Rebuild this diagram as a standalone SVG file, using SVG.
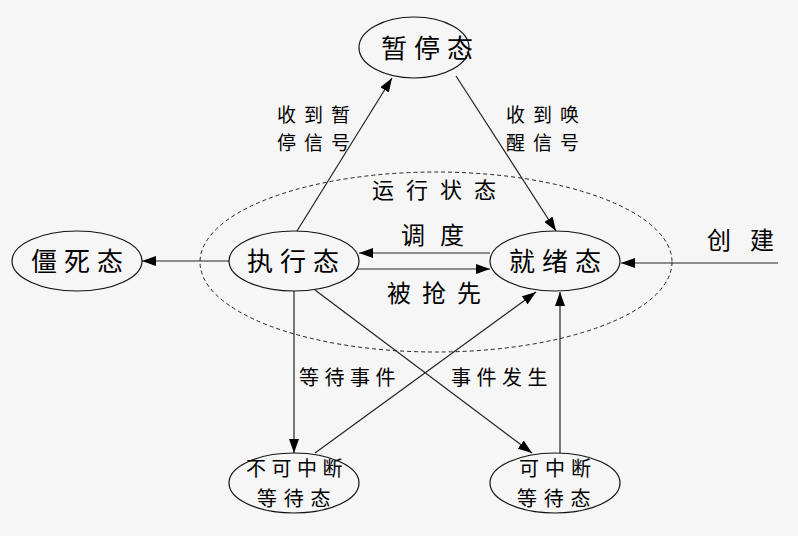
<svg xmlns="http://www.w3.org/2000/svg" width="798" height="536" viewBox="0 0 798 536">
<defs>
<style>
.n{fill:none;stroke:#111;stroke-width:1.2}
.c line{stroke:#222;stroke-width:1.2}
text{font-family:"Noto Sans CJK SC","Noto Sans CJK TC",sans-serif;fill:#000}
.big{font-size:26px;letter-spacing:7px}
.sm{font-size:19px;letter-spacing:8px}
.md{font-size:20px}
.lb{font-size:24px}
</style>
<marker id="ah" markerUnits="userSpaceOnUse" markerWidth="14" markerHeight="10" refX="14" refY="5" orient="auto">
<path d="M0,0 L14,5 L0,10 z" fill="#000"/>
</marker>
</defs>
<rect x="0" y="0" width="798" height="536" fill="#f6f6f6"/>
<g id="running">
<ellipse cx="436" cy="262" rx="236" ry="90" fill="none" stroke="#222" stroke-width="1" stroke-dasharray="4 3"/>
<text x="372" y="198" style="font-size:22px;letter-spacing:12px">运行状态</text>
</g>
<g class="c" id="connectors">
<line x1="229" y1="261" x2="142" y2="261" marker-end="url(#ah)"/>
<line x1="490" y1="253" x2="359" y2="253" marker-end="url(#ah)"/>
<line x1="357" y1="269" x2="490" y2="269" marker-end="url(#ah)"/>
<line x1="778" y1="263" x2="621" y2="263" marker-end="url(#ah)"/>
<line x1="297" y1="231" x2="392" y2="78" marker-end="url(#ah)"/>
<line x1="456" y1="76" x2="556" y2="231" marker-end="url(#ah)"/>
<line x1="315" y1="290" x2="532" y2="453" marker-end="url(#ah)"/>
<line x1="294" y1="291" x2="294" y2="453" marker-end="url(#ah)"/>
<line x1="315" y1="453" x2="536" y2="292" marker-end="url(#ah)"/>
<line x1="560" y1="453" x2="560" y2="292" marker-end="url(#ah)"/>
</g>
<g id="labels">
<text class="sm" x="277" y="122">收到暂</text>
<text class="sm" x="277" y="150">停信号</text>
<text class="sm" x="506" y="122">收到唤</text>
<text class="sm" x="506" y="150">醒信号</text>
<text class="lb" x="401" y="243.5" style="letter-spacing:15px">调度</text>
<text class="lb" x="387" y="301.5" style="letter-spacing:11px">被抢先</text>
<text class="lb" x="707" y="249" style="letter-spacing:19px">创建</text>
<text class="md" x="299" y="385" style="letter-spacing:5.5px">等待事件</text>
<text class="md" x="451" y="385" style="letter-spacing:5.5px">事件发生</text>
</g>
<g id="paused">
<ellipse class="n" cx="414" cy="47.5" rx="55" ry="30.5"/>
<text class="big" x="381" y="57.5">暂停态</text>
</g>
<g id="zombie">
<ellipse class="n" cx="77" cy="261" rx="65" ry="30"/>
<text class="big" x="31" y="270.5">僵死态</text>
</g>
<g id="executing">
<ellipse class="n" cx="294" cy="261" rx="65" ry="30"/>
<text class="big" x="247" y="270.5">执行态</text>
</g>
<g id="ready">
<ellipse class="n" cx="555" cy="261" rx="65" ry="30"/>
<text class="big" x="509" y="270.5">就绪态</text>
</g>
<g id="uninterruptible">
<ellipse class="n" cx="294" cy="483" rx="65" ry="30"/>
<text class="md" x="246" y="475.6" style="letter-spacing:5.5px">不可中断</text>
<text class="md" x="257" y="506" style="letter-spacing:6.8px">等待态</text>
</g>
<g id="interruptible">
<ellipse class="n" cx="555" cy="483" rx="65" ry="30"/>
<text class="md" x="519" y="475.6" style="letter-spacing:6px">可中断</text>
<text class="md" x="517" y="506" style="letter-spacing:6.8px">等待态</text>
</g>
</svg>
